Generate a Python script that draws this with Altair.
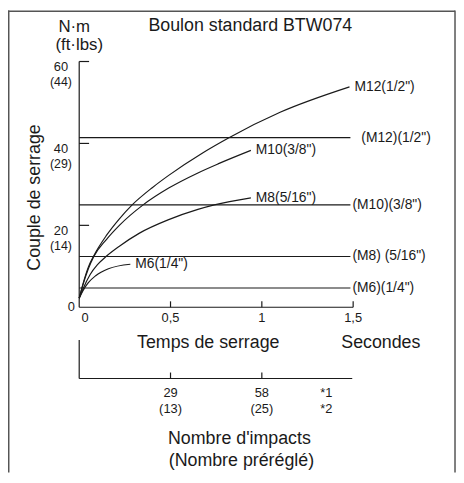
import altair as alt
import pandas as pd

# ---------------- data ----------------
series_names = ['M12(1/2")', 'M10(3/8")', 'M8(5/16")', 'M6(1/4")']
m12_time = [0, 0.02, 0.05, 0.08, 0.15, 0.22, 0.29, 0.40, 0.49, 0.68, 0.82, 1.10, 1.48]
m12_torque = [2.2, 5.6, 9.8, 12.6, 17.6, 21.6, 25.0, 29.2, 32.2, 37.8, 41.4, 47.6, 53.8]
m10_time = [0, 0.02, 0.05, 0.08, 0.15, 0.22, 0.35, 0.49, 0.65, 0.76, 0.94]
m10_torque = [2.2, 5.4, 9.4, 12.4, 16.6, 20.0, 25.0, 29.1, 32.8, 35.0, 38.3]
m8_time = [0, 0.02, 0.06, 0.10, 0.15, 0.22, 0.33, 0.49, 0.65, 0.74, 0.94]
m8_torque = [2.2, 4.4, 8.0, 10.4, 12.5, 14.9, 18.1, 21.4, 23.9, 25.0, 26.7]
m6_time = [0, 0.02, 0.05, 0.09, 0.16, 0.28]
m6_torque = [2.2, 4.0, 6.0, 7.7, 9.4, 10.5]

ref_labels = ['(M12)(1/2")', '(M10)(3/8")', '(M8) (5/16")', '(M6)(1/4")']
ref_torque = [41.4, 25.0, 12.4, 4.7]
ref_end_time = 1.485

y_ticks = [20, 40, 60]
y_tick_nm = ["20", "40", "60"]
y_tick_ftlbs = ["(14)", "(29)", "(44)"]
x_ticks = [0.5, 1.0, 1.5]
x_tick_labels = ["0,5", "1", "1,5"]
impact_ticks = [0.5, 1.0]
impact_counts = ["29", "58"]
impact_presets = ["(13)", "(25)"]

# ---------------- layout ----------------
W, H = 453, 467
X0, SX = 72.0, 184.67      # pixel of t=0, pixels per second
Y0, SY = 300.0, 4.1417     # pixel of 0 N·m, pixels per N·m
FONT = "Liberation Sans"
INK = "#1a1a1a"
LW = 1.2

xs = alt.Scale(domain=[-X0 / SX, (W - X0) / SX], nice=False, zero=False)
ys = alt.Scale(domain=[(Y0 - H) / SY, Y0 / SY], nice=False, zero=False)


def X(f):
    return alt.X(f, type="quantitative", scale=xs, axis=None)


def Y(f):
    return alt.Y(f, type="quantitative", scale=ys, axis=None)


rows = []
for name, ts, vs in zip(series_names,
                        [m12_time, m10_time, m8_time, m6_time],
                        [m12_torque, m10_torque, m8_torque, m6_torque]):
    for t, v in zip(ts, vs):
        rows.append({"series": name, "t": t, "v": v})
curves = pd.DataFrame(rows)
ends = curves.groupby("series", sort=False).tail(1).reset_index(drop=True)

refs = pd.DataFrame({"label": ref_labels, "v": ref_torque,
                     "t0": 0.0, "t1": ref_end_time})
yt = pd.DataFrame({"v": y_ticks, "nm": y_tick_nm, "ft": y_tick_ftlbs})
xt = pd.DataFrame({"t": x_ticks, "lab": x_tick_labels})
it = pd.DataFrame({"t": impact_ticks, "n": impact_counts, "p": impact_presets})
one = pd.DataFrame({"a": [0]})

layers = []

# curves
layers.append(alt.Chart(curves).mark_line(color=INK, strokeWidth=LW, interpolate="monotone").encode(
    x=X("t"), y=Y("v"), detail="series:N", order="t:Q"))
layers.append(alt.Chart(ends).mark_text(font=FONT, fontSize=14, align="left", baseline="middle",
                                        dx=5, color=INK).encode(x=X("t"), y=Y("v"), text="series:N"))

# reference lines
layers.append(alt.Chart(refs).mark_rule(color=INK, strokeWidth=LW).encode(
    x=X("t0"), x2="t1", y=Y("v")))
layers.append(alt.Chart(refs.iloc[:1]).mark_text(font=FONT, fontSize=14, align="left", baseline="middle",
                                                 dx=11, color=INK).encode(x=X("t1"), y=Y("v"), text="label:N"))
layers.append(alt.Chart(refs.iloc[1:]).mark_text(font=FONT, fontSize=14, align="left", baseline="middle",
                                                 dx=2, color=INK).encode(x=X("t1"), y=Y("v"), text="label:N"))

# y axis
layers.append(alt.Chart(pd.DataFrame({"t": [0.0], "v0": [0.0], "v1": [60.0]})).mark_rule(
    color=INK, strokeWidth=LW).encode(x=X("t"), y=Y("v0"), y2="v1"))
layers.append(alt.Chart(yt).mark_rule(color=INK, strokeWidth=LW).encode(
    x=alt.value(X0), x2=alt.value(X0 + 10), y=Y("v")))
layers.append(alt.Chart(yt).mark_text(font=FONT, fontSize=13, align="center", baseline="middle",
                                      dy=5.5, color=INK).encode(x=alt.value(53.5), y=Y("v"), text="nm:N"))
layers.append(alt.Chart(yt).mark_text(font=FONT, fontSize=12.5, align="center", baseline="middle",
                                      dy=21, color=INK).encode(x=alt.value(53.5), y=Y("v"), text="ft:N"))
layers.append(alt.Chart(pd.DataFrame({"v": [0.0]})).mark_text(
    font=FONT, fontSize=13, align="center", baseline="middle", color=INK).encode(
    x=alt.value(64), y=Y("v"), text=alt.value("0")))

# x axis (time)
layers.append(alt.Chart(pd.DataFrame({"t0": [0.0], "t1": [1.5], "v": [0.0]})).mark_rule(
    color=INK, strokeWidth=LW).encode(x=X("t0"), x2="t1", y=Y("v")))
layers.append(alt.Chart(xt).mark_rule(color=INK, strokeWidth=LW).encode(
    x=X("t"), y=alt.value(Y0 - 6), y2=alt.value(Y0)))
layers.append(alt.Chart(xt).mark_text(font=FONT, fontSize=13, align="center", baseline="middle",
                                      color=INK).encode(x=X("t"), y=alt.value(Y0 + 11), text="lab:N"))
layers.append(alt.Chart(pd.DataFrame({"t": [0.0]})).mark_text(
    font=FONT, fontSize=13, align="center", baseline="middle", dx=6, color=INK).encode(
    x=X("t"), y=alt.value(Y0 + 11), text=alt.value("0")))

# impacts axis
layers.append(alt.Chart(pd.DataFrame({"t": [0.0]})).mark_rule(color=INK, strokeWidth=LW).encode(
    x=X("t"), y=alt.value(333), y2=alt.value(372)))
layers.append(alt.Chart(pd.DataFrame({"t0": [0.0], "t1": [1.495]})).mark_rule(
    color=INK, strokeWidth=LW).encode(x=X("t0"), x2="t1", y=alt.value(372)))
layers.append(alt.Chart(it).mark_rule(color=INK, strokeWidth=LW).encode(
    x=X("t"), y=alt.value(366), y2=alt.value(372)))
layers.append(alt.Chart(it).mark_text(font=FONT, fontSize=13, align="center", baseline="middle",
                                      color=INK).encode(x=X("t"), y=alt.value(387), text="n:N"))
layers.append(alt.Chart(it).mark_text(font=FONT, fontSize=13, align="center", baseline="middle",
                                      color=INK).encode(x=X("t"), y=alt.value(403), text="p:N"))


def label(txt, x, y, size, angle=None):
    kw = dict(font=FONT, fontSize=size, align="center", baseline="middle", color=INK)
    if angle is not None:
        kw["angle"] = angle
    return alt.Chart(one).mark_text(**kw).encode(
        x=alt.value(x), y=alt.value(y), text=alt.value(txt))


layers += [
    label("*1", 322, 387, 13),
    label("*2", 322, 403, 13),
    label("Boulon standard BTW074", 245, 16, 18),
    label("N·m", 67, 16.5, 17),
    label("(ft·lbs)", 72, 35, 17),
    label("Couple de serrage", 27, 189, 18, angle=270),
    label("Temps de serrage", 202.5, 336, 18),
    label("Secondes", 377, 336, 18),
    label("Nombre d'impacts", 234, 433, 18),
    label("(Nombre préréglé)", 236, 456, 18),
]

# frame (left, top, right)
frame = "#555555"
layers.append(alt.Chart(one).mark_rule(color=frame, strokeWidth=1.5).encode(
    x=alt.value(0.75), y=alt.value(0), y2=alt.value(H)))
layers.append(alt.Chart(one).mark_rule(color=frame, strokeWidth=1.5).encode(
    x=alt.value(0), x2=alt.value(452), y=alt.value(0.75)))
layers.append(alt.Chart(one).mark_rule(color=frame, strokeWidth=1.5).encode(
    x=alt.value(452), y=alt.value(0), y2=alt.value(H)))

chart = alt.layer(*layers).properties(
    width=W, height=H, padding=0, autosize=alt.AutoSizeParams(type="none")
).configure_view(stroke=None)

chart.save("out.html", embed_options={"renderer": "svg", "actions": False})
